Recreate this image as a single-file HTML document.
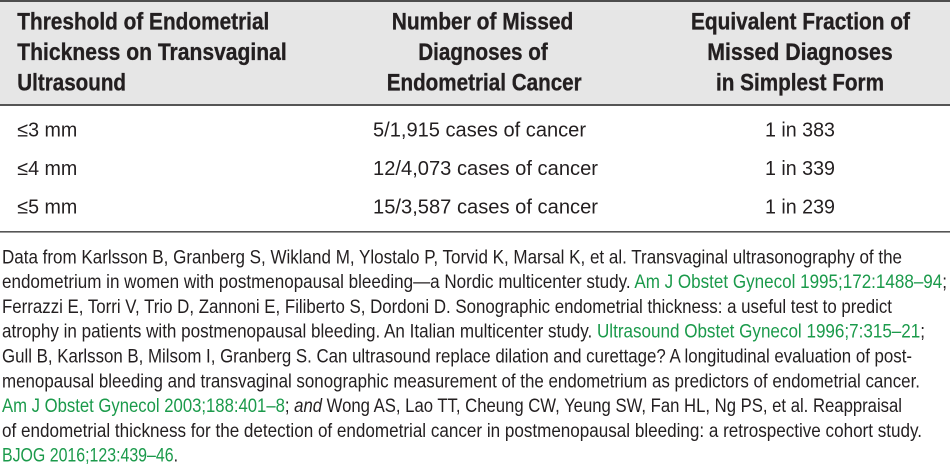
<!DOCTYPE html>
<html>
<head>
<meta charset="utf-8">
<style>
  html, body { margin: 0; padding: 0; background: #ffffff; }
  body { width: 950px; height: 465px; overflow: hidden; }
  svg { display: block; }
  .h { font-family: "Liberation Sans", sans-serif; font-weight: bold; font-size: 24px; fill: #231f20; stroke: #231f20; stroke-width: 0.35px; }
  .b { font-family: "Liberation Sans", sans-serif; font-size: 20.3px; fill: #231f20; }
  .f { font-family: "Liberation Sans", sans-serif; font-size: 19.3px; fill: #231f20; }
  .g { fill: #1b9a4b; }
  .i { font-style: italic; }
</style>
</head>
<body>
<svg width="950" height="465" viewBox="0 0 950 465" xmlns="http://www.w3.org/2000/svg">
  <!-- header band and rules -->
  <rect x="0" y="0" width="950" height="104" fill="#e6e6e6"/>
  <rect x="0" y="0" width="950" height="2" fill="#4d4d4d"/>
  <rect x="0" y="104" width="950" height="2" fill="#555555"/>
  <rect x="0" y="231" width="950" height="1.6" fill="#555555"/>

  <!-- header col 1 -->
  <text class="h" x="17.3" y="29.7" textLength="252" lengthAdjust="spacingAndGlyphs">Threshold of Endometrial</text>
  <text class="h" x="17.3" y="60" textLength="269.4" lengthAdjust="spacingAndGlyphs">Thickness on Transvaginal</text>
  <text class="h" x="17.3" y="90.3" textLength="108.7" lengthAdjust="spacingAndGlyphs">Ultrasound</text>

  <!-- header col 2 -->
  <text class="h" x="391.7" y="29.7" textLength="181.6" lengthAdjust="spacingAndGlyphs">Number of Missed</text>
  <text class="h" x="418.3" y="60" textLength="129.4" lengthAdjust="spacingAndGlyphs">Diagnoses of</text>
  <text class="h" x="386.7" y="90.3" textLength="195" lengthAdjust="spacingAndGlyphs">Endometrial Cancer</text>

  <!-- header col 3 -->
  <text class="h" x="691" y="29.7" textLength="219" lengthAdjust="spacingAndGlyphs">Equivalent Fraction of</text>
  <text class="h" x="707.3" y="60" textLength="185.4" lengthAdjust="spacingAndGlyphs">Missed Diagnoses</text>
  <text class="h" x="716" y="90.3" textLength="168" lengthAdjust="spacingAndGlyphs">in Simplest Form</text>

  <!-- body rows -->
  <text class="b" x="17.3" y="136.7" textLength="60" lengthAdjust="spacingAndGlyphs">≤3 mm</text>
  <text class="b" x="17.3" y="175" textLength="60" lengthAdjust="spacingAndGlyphs">≤4 mm</text>
  <text class="b" x="17.3" y="213.3" textLength="60" lengthAdjust="spacingAndGlyphs">≤5 mm</text>

  <text class="b" x="373" y="136.7" textLength="213" lengthAdjust="spacingAndGlyphs">5/1,915 cases of cancer</text>
  <text class="b" x="373" y="175" textLength="225" lengthAdjust="spacingAndGlyphs">12/4,073 cases of cancer</text>
  <text class="b" x="373" y="213.3" textLength="225" lengthAdjust="spacingAndGlyphs">15/3,587 cases of cancer</text>

  <text class="b" x="765" y="136.7" textLength="70" lengthAdjust="spacingAndGlyphs">1 in 383</text>
  <text class="b" x="765" y="175" textLength="70" lengthAdjust="spacingAndGlyphs">1 in 339</text>
  <text class="b" x="765" y="213.3" textLength="70" lengthAdjust="spacingAndGlyphs">1 in 239</text>

  <!-- footnote -->
  <text class="f" x="2" y="263.3" textLength="900" lengthAdjust="spacingAndGlyphs">Data from Karlsson B, Granberg S, Wikland M, Ylostalo P, Torvid K, Marsal K, et al. Transvaginal ultrasonography of the</text>
  <text class="f" x="2" y="288.1" textLength="945" lengthAdjust="spacingAndGlyphs">endometrium in women with postmenopausal bleeding—a Nordic multicenter study. <tspan class="g">Am J Obstet Gynecol 1995;172:1488–94</tspan>;</text>
  <text class="f" x="2" y="312.9" textLength="890" lengthAdjust="spacingAndGlyphs">Ferrazzi E, Torri V, Trio D, Zannoni E, Filiberto S, Dordoni D. Sonographic endometrial thickness: a useful test to predict</text>
  <text class="f" x="2" y="337.7" textLength="923" lengthAdjust="spacingAndGlyphs">atrophy in patients with postmenopausal bleeding. An Italian multicenter study. <tspan class="g">Ultrasound Obstet Gynecol 1996;7:315–21</tspan>;</text>
  <text class="f" x="2" y="362.5" textLength="910" lengthAdjust="spacingAndGlyphs">Gull B, Karlsson B, Milsom I, Granberg S. Can ultrasound replace dilation and curettage? A longitudinal evaluation of post-</text>
  <text class="f" x="2" y="387.3" textLength="918" lengthAdjust="spacingAndGlyphs">menopausal bleeding and transvaginal sonographic measurement of the endometrium as predictors of endometrial cancer.</text>
  <text class="f" x="2" y="412.1" textLength="900" lengthAdjust="spacingAndGlyphs"><tspan class="g">Am J Obstet Gynecol 2003;188:401–8</tspan>; <tspan class="i">and</tspan> Wong AS, Lao TT, Cheung CW, Yeung SW, Fan HL, Ng PS, et al. Reappraisal</text>
  <text class="f" x="2" y="436.9" textLength="920" lengthAdjust="spacingAndGlyphs">of endometrial thickness for the detection of endometrial cancer in postmenopausal bleeding: a retrospective cohort study.</text>
  <text class="f" x="2" y="461.7" textLength="176" lengthAdjust="spacingAndGlyphs"><tspan class="g">BJOG 2016;123:439–46</tspan>.</text>
</svg>
</body>
</html>
